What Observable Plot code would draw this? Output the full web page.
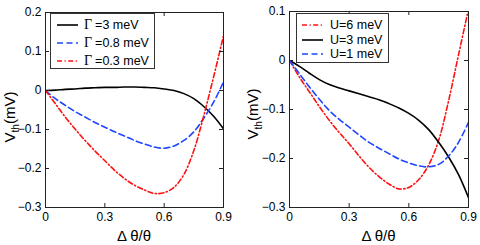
<!DOCTYPE html>
<html><head><meta charset="utf-8">
<script src="https://cdn.jsdelivr.net/npm/d3@7"></script>
<script src="https://cdn.jsdelivr.net/npm/@observablehq/plot@0.6"></script>
<style>
body{margin:0;background:#fff;width:480px;height:245px;overflow:hidden;font-family:"Liberation Sans",Arial,sans-serif}
#wrap{position:relative;width:480px;height:245px}
.panel{position:absolute;top:0;width:240px;height:245px}
.legend{position:absolute;background:#fff;border:1px solid #333;box-sizing:border-box}
.legend .row{position:absolute;display:flex;align-items:center;height:16px;white-space:nowrap;font-size:12.5px;color:#000}
.legend .row svg{display:block;flex:none}
.legend .sym{font-family:"Liberation Serif","Times New Roman",serif;font-size:14px;margin-right:3px}
</style></head><body><div id="wrap"></div>
<script>
// shared x grid (Δθ/θ)
const xGrid = [0,0.05,0.1,0.15,0.2,0.25,0.3,0.35,0.4,0.45,0.5,0.55,0.6,0.65,0.7,0.75,0.8,0.85,0.9];
const xTicks = [0,0.3,0.6,0.9];

// left panel: Γ series
const leftYTicks = [-0.3,-0.2,-0.1,0,0.1,0.2];
const gammaSymbols = ["Γ","Γ","Γ"];
const gammaLabels = ["=3 meV","=0.8 meV","=0.3 meV"];
const gamma3  = [0,0.001,0.003,0.004,0.006,0.007,0.008,0.008,0.009,0.009,0.008,0.007,0.004,0.000,-0.008,-0.021,-0.041,-0.066,-0.098];
const gamma08 = [0,-0.021,-0.038,-0.054,-0.068,-0.082,-0.094,-0.106,-0.117,-0.128,-0.137,-0.145,-0.148,-0.142,-0.128,-0.106,-0.071,-0.030,0.022];
const gamma03 = [0,-0.034,-0.068,-0.099,-0.128,-0.155,-0.180,-0.205,-0.226,-0.243,-0.255,-0.264,-0.262,-0.248,-0.215,-0.154,-0.065,0.035,0.140];

// right panel: U series
const rightYTicks = [-0.3,-0.2,-0.1,0,0.1];
const uLabels = ["U=6 meV","U=3 meV","U=1 meV"];
const u6 = [0,-0.034,-0.064,-0.094,-0.122,-0.147,-0.170,-0.195,-0.218,-0.237,-0.252,-0.262,-0.259,-0.243,-0.213,-0.163,-0.082,0.012,0.105];
const u3 = [0,-0.012,-0.026,-0.039,-0.049,-0.056,-0.062,-0.068,-0.074,-0.080,-0.088,-0.097,-0.108,-0.122,-0.141,-0.167,-0.197,-0.233,-0.280];
const u1 = [0,-0.027,-0.054,-0.079,-0.102,-0.120,-0.136,-0.152,-0.167,-0.179,-0.190,-0.201,-0.209,-0.215,-0.217,-0.212,-0.195,-0.167,-0.126];

const STY = {
  black:{color:"#000", dash:null},
  blue:{color:"#1f45ff", dash:"6,3.5"},
  red:{color:"#ff1010", dash:"5,2.5,1.2,2.5"}
};
const fmt = d => String(d).replace("-", "\u2212");

function panel(cfg){
  const W=240, H=245, {ml,mr,mt,mb,yDomain,yTicks,series,ylabX,ylabY,legend} = cfg;
  const iw=W-ml-mr, ih=H-mt-mb, tk=4, fc="#222";
  const svg = Plot.plot({
    width:W, height:H, marginLeft:ml, marginRight:mr, marginTop:mt, marginBottom:mb,
    x:{domain:[0,0.9]}, y:{domain:yDomain},
    style:{fontFamily:"'Liberation Sans',Arial,sans-serif", fontSize:"12px", color:"#000", background:"#fff", overflow:"visible"},
    marks:[
      ...series.map(s=>Plot.line(xGrid.map((x,i)=>({x,y:s.values[i]})),
        {x:"x", y:"y", stroke:STY[s.style].color, strokeDasharray:STY[s.style].dash, strokeWidth:1.6, curve:"catmull-rom", clip:true})),
      Plot.frame({stroke:fc, strokeWidth:1}),
      Plot.tickX(xTicks,{x:d=>d, insetTop:ih-tk, stroke:fc}),
      Plot.tickX(xTicks,{x:d=>d, insetBottom:ih-tk, stroke:fc}),
      Plot.tickY(yTicks,{y:d=>d, insetRight:iw-tk, stroke:fc}),
      Plot.tickY(yTicks,{y:d=>d, insetLeft:iw-tk, stroke:fc}),
      Plot.axisX(xTicks,{tickSize:0, tickPadding:5, label:null, tickFormat:fmt, fontSize:12}),
      Plot.axisY(yTicks,{tickSize:0, tickPadding:4, label:null, tickFormat:fmt, fontSize:12})
    ]
  });
  const s = d3.select(svg);
  s.append("text").attr("x", ml+iw/2).attr("y", 241).attr("text-anchor","middle")
    .attr("font-size",15).attr("fill","#000").text("Δ θ/θ");
  const yl = s.append("text").attr("transform",`translate(${ylabX},${ylabY}) rotate(-90)`)
    .attr("text-anchor","middle").attr("font-size",15).attr("fill","#000");
  yl.append("tspan").text("V");
  yl.append("tspan").attr("font-size",10).attr("dy",4).text("th");
  yl.append("tspan").attr("dy",-4).text("(mV)");

  const div = document.createElement("div");
  div.className="panel"; div.style.left=cfg.left+"px";
  div.appendChild(svg);
  // legend
  const lg = document.createElement("div");
  lg.className="legend";
  Object.assign(lg.style,{left:legend.x+"px",top:legend.y+"px",width:legend.w+"px",height:legend.h+"px"});
  legend.items.forEach((it,i)=>{
    const row=document.createElement("div"); row.className="row";
    row.style.top=(legend.rows[i]-8)+"px"; row.style.left=legend.sx+"px";
    const st=STY[it.style];
    row.innerHTML=`<svg width="${legend.sw}" height="16"><line x1="0" x2="${legend.sw}" y1="8" y2="8" stroke="${st.color}" stroke-width="1.6" ${st.dash?`stroke-dasharray="${st.dash}"`:""}/></svg>`+
      `<span style="margin-left:${legend.gap}px">${it.sym?`<span class="sym">${it.sym}</span>`:""}${it.label}</span>`;
    lg.appendChild(row);
  });
  div.appendChild(lg);
  document.getElementById("wrap").appendChild(div);
}

panel({left:0, ml:45, mr:17, mt:12, mb:38, yDomain:[-0.3,0.2], yTicks:leftYTicks, ylabX:15, ylabY:117,
  series:[{values:gamma3,style:"black"},{values:gamma08,style:"blue"},{values:gamma03,style:"red"}],
  legend:{x:50,y:13,w:105,h:56,sx:6,sw:21,gap:6,rows:[11,29,47],
    items:gammaLabels.map((l,i)=>({sym:gammaSymbols[i],label:l,style:["black","blue","red"][i]}))}
});
panel({left:240, ml:49, mr:12, mt:11, mb:38, yDomain:[-0.3,0.1], yTicks:rightYTicks, ylabX:18, ylabY:114,
  series:[{values:u6,style:"red"},{values:u3,style:"black"},{values:u1,style:"blue"}],
  legend:{x:56,y:13,w:93,h:50,sx:5,sw:21,gap:7,rows:[11,26,40],
    items:uLabels.map((l,i)=>({label:l,style:["red","black","blue"][i]}))}
});
</script></body></html>
